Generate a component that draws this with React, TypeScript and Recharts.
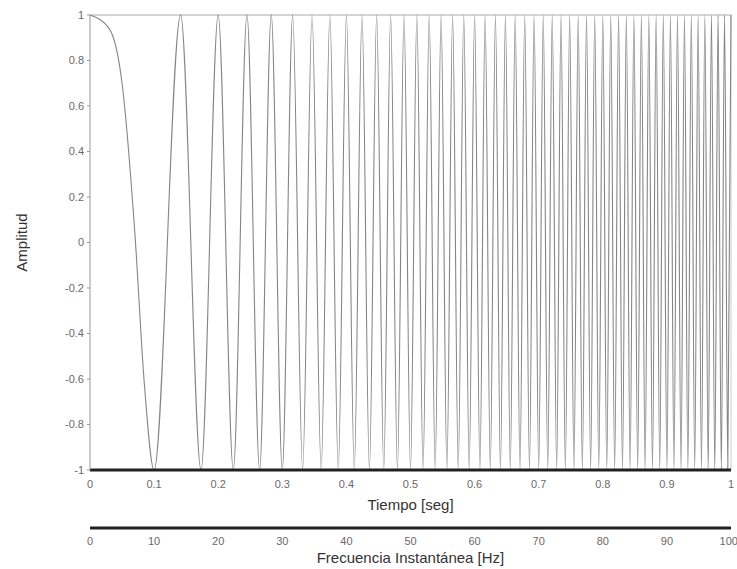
import { LineChart, Line, XAxis, YAxis, ReferenceLine, Label } from 'recharts';

// Times (s) where the chirp reaches +1 (crests) and -1 (troughs)
const crestTimes = [
  0, 0.1414, 0.2, 0.2449, 0.2828, 0.3162, 0.3464, 0.3742, 0.4, 0.4243, 0.4472, 0.469, 0.4899,
  0.5099, 0.5292, 0.5477, 0.5657, 0.5831, 0.6, 0.6164, 0.6325, 0.6481, 0.6633, 0.6782, 0.6928,
  0.7071, 0.7211, 0.7348, 0.7483, 0.7616, 0.7746, 0.7874, 0.8, 0.8124, 0.8246, 0.8367, 0.8485,
  0.8602, 0.8718, 0.8832, 0.8944, 0.9055, 0.9165, 0.9274, 0.9381, 0.9487, 0.9592, 0.9695, 0.9798,
  0.9899, 1.0,
];
const troughTimes = [
  0.1, 0.1732, 0.2236, 0.2646, 0.3, 0.3317, 0.3606, 0.3873, 0.4123, 0.4359, 0.4583, 0.4796, 0.5,
  0.5196, 0.5385, 0.5568, 0.5745, 0.5916, 0.6083, 0.6245, 0.6403, 0.6557, 0.6708, 0.6856, 0.7,
  0.7141, 0.728, 0.7416, 0.755, 0.7681, 0.781, 0.7937, 0.8062, 0.8185, 0.8307, 0.8426, 0.8544,
  0.866, 0.8775, 0.8888, 0.9, 0.911, 0.922, 0.9327, 0.9434, 0.9539, 0.9644, 0.9747, 0.9849, 0.995,
];
// a few points read along the slow first lobe
const firstLobeTimes = [0.03, 0.05, 0.07, 0.085];
const firstLobeValues = [0.94, 0.7, 0.04, -0.63];

const timeTicks = [0, 0.1, 0.2, 0.3, 0.4, 0.5, 0.6, 0.7, 0.8, 0.9, 1];
const freqTicks = [0, 10, 20, 30, 40, 50, 60, 70, 80, 90, 100];
const ampTicks = [-1, -0.8, -0.6, -0.4, -0.2, 0, 0.2, 0.4, 0.6, 0.8, 1];

const data = [
  ...crestTimes.map((t) => ({ t, a: 1 })),
  ...troughTimes.map((t) => ({ t, a: -1 })),
  ...firstLobeTimes.map((t, i) => ({ t, a: firstLobeValues[i] })),
].sort((p, q) => p.t - q.t);

const font = '"Liberation Sans", Arial, sans-serif';
const tickStyle = { fill: '#6a6a6a', fontSize: 11, fontFamily: font };

export default function App() {
  return (
    <div style={{ position: 'absolute', left: 0, top: 0, background: '#fff' }}>
      <LineChart width={737} height={569} data={data} margin={{ top: 15, right: 6, bottom: 0, left: 0 }}>
        <XAxis
          dataKey="t"
          type="number"
          domain={[0, 1]}
          ticks={timeTicks}
          tick={tickStyle}
          tickLine={false}
          tickMargin={4}
          axisLine={{ stroke: '#222', strokeWidth: 3 }}
          height={58}
        >
          <Label value="Tiempo [seg]" position="insideBottom" offset={18} style={{ fill: '#333', fontSize: 15, fontFamily: font }} />
        </XAxis>
        <XAxis
          xAxisId="freq"
          dataKey="hz"
          type="number"
          domain={[0, 100]}
          allowDataOverflow
          ticks={freqTicks}
          tick={tickStyle}
          tickLine={false}
          tickMargin={3}
          axisLine={{ stroke: '#222', strokeWidth: 3 }}
          height={41}
        >
          <Label value="Frecuencia Instantánea [Hz]" position="insideBottom" offset={6} style={{ fill: '#333', fontSize: 15, fontFamily: font }} />
        </XAxis>
        <YAxis
          type="number"
          domain={[-1, 1]}
          ticks={ampTicks}
          tick={tickStyle}
          tickLine={{ stroke: '#999' }}
          tickSize={3}
          tickMargin={3}
          axisLine={{ stroke: '#999' }}
          width={90}
        >
          <Label value="Amplitud" angle={-90} position="insideLeft" offset={22} style={{ fill: '#333', fontSize: 15, fontFamily: font, textAnchor: 'middle' }} />
        </YAxis>
        <ReferenceLine y={1} stroke="#aaa" />
        <ReferenceLine x={1} stroke="#ccc" />
        <Line
          type="monotone"
          dataKey="a"
          stroke="#858585"
          strokeWidth={1.1}
          dot={false}
          isAnimationActive={false}
        />
      </LineChart>
    </div>
  );
}
